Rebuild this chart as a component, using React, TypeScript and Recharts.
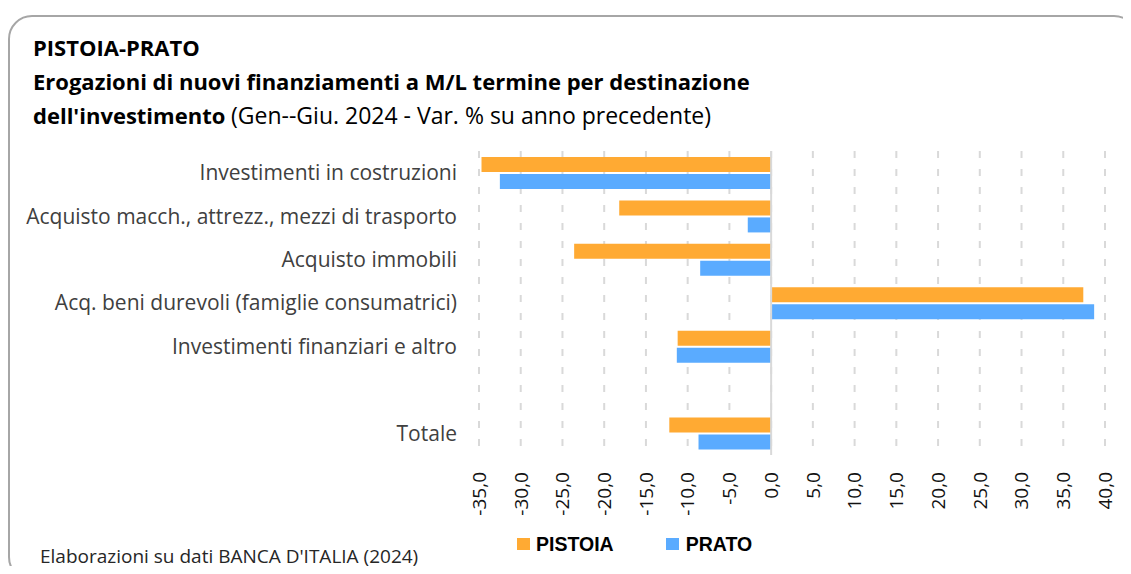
import React from "react"
import { Bar, BarChart, CartesianGrid, ReferenceLine, XAxis, YAxis } from "recharts"

const categories = [
  "Investimenti in costruzioni",
  "Acquisto macch., attrezz., mezzi di trasporto",
  "Acquisto immobili",
  "Acq. beni durevoli (famiglie consumatrici)",
  "Investimenti finanziari e altro",
  " ",
  "Totale",
]
const pistoia = [-34.7, -18.2, -23.6, 37.4, -11.2, null, -12.2]
const prato = [-32.5, -2.8, -8.5, 38.7, -11.3, null, -8.7]
const xTicks = [-35, -30, -25, -20, -15, -10, -5, 0, 5, 10, 15, 20, 25, 30, 35, 40]

const ORANGE = "#FFAA33"
const BLUE = "#5AABFF"
const FONT = "'Open Sans', sans-serif"

const data = categories.map((name, i) => ({ name, pistoia: pistoia[i], prato: prato[i] }))

const fmt = (v: number) => v.toFixed(1).replace(".", ",")

const XTick = (props: any) => {
  const { x, y, payload } = props
  return (
    <text
      x={x}
      y={y}
      dy="0.36em"
      transform={`rotate(-90 ${x} ${y})`}
      textAnchor="end"
      fill="#111"
      fontSize={19}
      fontFamily={FONT}
    >
      {fmt(payload.value)}
    </text>
  )
}

const App: React.FC = () => {
  return (
    <div style={{ position: "relative", width: 1131, height: 574, margin: -8, background: "#fff", overflow: "hidden", fontFamily: FONT }}>
      <div
        style={{
          position: "absolute",
          left: 8,
          top: 15,
          width: 1126,
          height: 562,
          border: "2px solid #A6A6A6",
          borderRadius: 24,
        }}
      />
      <div style={{ position: "absolute", left: 33, top: 30, fontSize: 22, lineHeight: "34px", color: "#000" }}>
        <div style={{ fontWeight: 700 }}>PISTOIA-PRATO</div>
        <div style={{ fontWeight: 700 }}>Erogazioni  di nuovi finanziamenti a M/L termine per destinazione</div>
        <div>
          <span style={{ fontWeight: 700 }}>dell'investimento</span>{" "}
          <span style={{ fontSize: 23 }}>(Gen--Giu. 2024 - Var. % su anno precedente)</span>
        </div>
      </div>
      <div style={{ position: "absolute", left: 0, top: 0 }}>
        <BarChart
          width={1131}
          height={574}
          layout="vertical"
          data={data}
          margin={{ top: 151, right: 26, bottom: 0, left: 0 }}
          barSize={15}
          barGap={2}
        >
          <CartesianGrid horizontal={false} stroke="#D9D9D9" strokeWidth={2} strokeDasharray="7 11" />
          <XAxis
            type="number"
            domain={[-35, 40]}
            ticks={xTicks}
            interval={0}
            axisLine={false}
            tickLine={false}
            tickMargin={11}
            height={119}
            tick={<XTick />}
          />
          <YAxis
            type="category"
            dataKey="name"
            width={479}
            axisLine={false}
            tickLine={false}
            tickMargin={16}
            interval={0}
            tick={{ fill: "#404040", fontSize: 21, fontFamily: FONT }}
          />
          <ReferenceLine x={0} stroke="#D9D9D9" strokeWidth={2} />
          <Bar dataKey="pistoia" name="PISTOIA" fill={ORANGE} isAnimationActive={false} />
          <Bar dataKey="prato" name="PRATO" fill={BLUE} isAnimationActive={false} />
        </BarChart>
      </div>
      <div
        style={{
          position: "absolute",
          left: 517,
          top: 533,
          display: "flex",
          alignItems: "center",
          fontSize: 19.5,
          lineHeight: "22px",
          fontWeight: 700,
          fontFamily: "'Liberation Sans', Arial, sans-serif",
          color: "#000",
        }}
      >
        <span style={{ width: 13, height: 12, background: ORANGE, display: "inline-block", marginRight: 6 }} />
        <span>PISTOIA</span>
        <span style={{ width: 13, height: 12, background: BLUE, display: "inline-block", marginLeft: 52, marginRight: 7 }} />
        <span>PRATO</span>
      </div>
      <div style={{ position: "absolute", left: 40, top: 543, fontSize: 19, lineHeight: "26px", color: "#262626" }}>
        Elaborazioni su dati BANCA D'ITALIA (2024)
      </div>
    </div>
  )
}

export default App
